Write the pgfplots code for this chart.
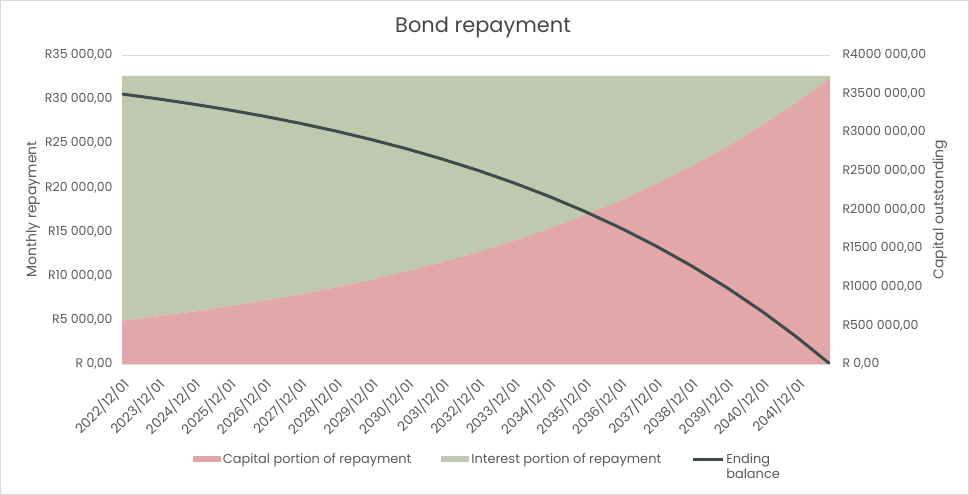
\documentclass[border=0pt]{standalone}
\usepackage{fontspec}
\setmainfont{Poppins}
\usepackage{pgfplots}
\pgfplotsset{compat=1.18}
\definecolor{cap}{RGB}{226,167,168}
\definecolor{int}{RGB}{191,201,175}
\definecolor{bal}{RGB}{63,74,76}
\definecolor{txt}{RGB}{89,89,89}
\definecolor{grd}{RGB}{217,217,217}
\newcommand{\tf}{\fontsize{12.5}{14}\selectfont}
\begin{document}
\begin{tikzpicture}
\path[use as bounding box, draw=grd, line width=1bp] (0.5bp,0.5bp) rectangle (968.5bp,494.5bp);
\begin{axis}[
  at={(122bp,131bp)}, anchor=south west,
  scale only axis, width=708bp, height=309bp,
  xmin=0, xmax=239, ymin=0, ymax=35000,
  ytick={0,5000,10000,15000,20000,25000,30000,35000},
  yticklabels={{R 0,00},{R5 000,00},{R10 000,00},{R15 000,00},{R20 000,00},{R25 000,00},{R30 000,00},{R35 000,00}},
  xtick={0,12,24,36,48,60,72,84,96,108,120,132,144,156,168,180,192,204,216,228},
  xticklabels={2022/12/01,2023/12/01,2024/12/01,2025/12/01,2026/12/01,2027/12/01,2028/12/01,2029/12/01,2030/12/01,2031/12/01,2032/12/01,2033/12/01,2034/12/01,2035/12/01,2036/12/01,2037/12/01,2038/12/01,2039/12/01,2040/12/01,2041/12/01},
  xticklabel style={xshift=-1bp, yshift=-11bp, rotate=45, anchor=north east, font=\fontsize{13.5}{15}\selectfont, text=txt, inner sep=1bp},
  yticklabel style={font=\tf, text=txt, xshift=-6bp},
  scaled y ticks=false,
  axis line style={draw=none},
  major tick length=0pt,
  ymajorgrids, grid style={grd, line width=0.75bp},
  stack plots=y,
  ylabel={Monthly repayment},
  ylabel style={font=\fontsize{14}{16}\selectfont, text=txt, at={(axis description cs:-0.1257,0.5)}, anchor=center},
  title={Bond repayment},
  title style={font=\fontsize{21}{24}\selectfont, text=txt!80!black, at={(axis description cs:0.51,1.07)}, anchor=center},
  legend style={at={(axis description cs:0.516,-0.275)}, anchor=north, legend columns=3, draw=none, fill=none,
    font=\fontsize{13}{15.5}\selectfont, text=txt, cells={anchor=base west},
    /tikz/every even column/.append style={column sep=28bp}},
  legend image code/.code={\fill[#1] (0bp,1bp) rectangle (28bp,7bp);},
]
\addplot[fill=cap, draw=none] coordinates {(0,4917) (12,5405) (24,5941) (36,6531) (48,7179) (60,7892) (72,8675) (84,9536) (96,10483) (108,11523) (120,12667) (132,13924) (144,15306) (156,16825) (168,18495) (180,20330) (192,22348) (204,24566) (216,27004) (228,29684) (239,32368)} \closedcycle;
\addlegendentry{Capital portion of repayment}
\addplot[fill=int, draw=none] coordinates {(0,27708) (12,27220) (24,26684) (36,26094) (48,25446) (60,24733) (72,23950) (84,23089) (96,22142) (108,21102) (120,19958) (132,18701) (144,17319) (156,15800) (168,14130) (180,12295) (192,10277) (204,8059) (216,5621) (228,2941) (239,257)} \closedcycle;
\addlegendentry{Interest portion of repayment}
\addlegendimage{legend image code/.code={\draw[bal, line width=3bp] (0bp,4bp) -- (30bp,4bp);}}
\addlegendentry{\vtop{\hbox{Ending}\hbox{balance}}}
\end{axis}
\begin{axis}[
  at={(122bp,131bp)}, anchor=south west,
  scale only axis, width=708bp, height=309bp,
  xmin=0, xmax=239, ymin=0, ymax=4000000,
  axis y line*=right, axis x line=none,
  ytick={0,500000,1000000,1500000,2000000,2500000,3000000,3500000,4000000},
  yticklabels={{R 0,00},{R500 000,00},{R1000 000,00},{R1500 000,00},{R2000 000,00},{R2500 000,00},{R3000 000,00},{R3500 000,00},{R4000 000,00}},
  yticklabel style={font=\tf, text=txt, xshift=9bp},
  scaled y ticks=false,
  axis line style={draw=none},
  major tick length=0pt,
  ylabel={Capital outstanding},
  ylabel style={font=\fontsize{14}{16}\selectfont, text=txt, at={(axis description cs:1.1554,0.5)}, anchor=center},
]
\addplot[bal, line width=3bp] coordinates {(0,3495083) (12,3432955) (24,3364659) (36,3289584) (48,3207058) (60,3116342) (72,3016629) (84,2907012) (96,2786515) (108,2654064) (120,2508458) (132,2348412) (144,2172479) (156,1979080) (168,1766488) (180,1532802) (192,1275923) (204,993532) (216,683125) (228,341912) (239,0)};
\end{axis}
\end{tikzpicture}
\end{document}
